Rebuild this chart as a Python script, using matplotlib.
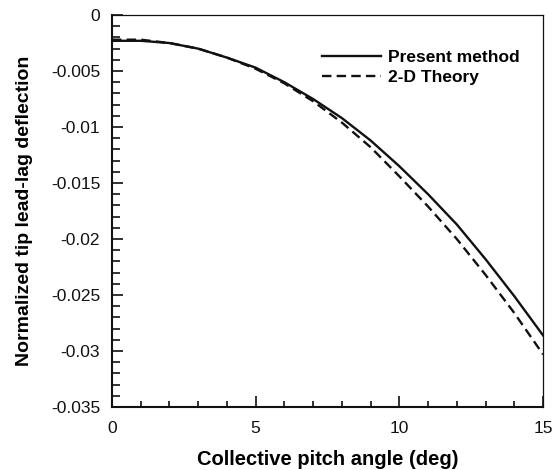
import matplotlib
matplotlib.use("Agg")
import matplotlib.pyplot as plt
from matplotlib.ticker import MultipleLocator, FuncFormatter

# collective pitch angle (deg)
pitch = [0, 1, 2, 3, 4, 5, 6, 7, 8, 9, 10, 11, 12, 13, 14, 15]
# normalized tip lead-lag deflection
present = [-0.0023, -0.0023, -0.0025, -0.0030, -0.0038, -0.0047, -0.0060, -0.0075,
           -0.0092, -0.0112, -0.0135, -0.0160, -0.0187, -0.0218, -0.0251, -0.0286]
theory_2d = [-0.0022, -0.0022, -0.0025, -0.0030, -0.0038, -0.0048, -0.0061, -0.0077,
             -0.0096, -0.0118, -0.0144, -0.0171, -0.0200, -0.0232, -0.0266, -0.0303]

plt.rcParams["font.family"] = ["Liberation Sans", "DejaVu Sans"]

fig = plt.figure(figsize=(5.55, 4.7), dpi=100)
ax = fig.add_axes([0.2018, 0.134, 0.7766, 0.834])

ax.plot(pitch, present, "-", color="#111111", lw=1.7, label="Present method")
ax.plot(pitch, theory_2d, "--", color="#111111", lw=1.7, dashes=(4, 2.2),
        label="2-D Theory")

ax.set_xlim(0, 15)
ax.set_ylim(-0.035, 0)
ax.xaxis.set_major_locator(MultipleLocator(5))
ax.xaxis.set_minor_locator(MultipleLocator(1))
ax.yaxis.set_major_locator(MultipleLocator(0.005))
ax.yaxis.set_minor_locator(MultipleLocator(0.001))
ax.yaxis.set_major_formatter(FuncFormatter(lambda v, p: f"{v:g}".replace("\u2212", "-")))
ax.xaxis.set_major_formatter(FuncFormatter(lambda v, p: f"{v:g}"))

ax.tick_params(which="both", direction="in", top=False, right=False,
               width=1.2, labelsize=12.5, colors="#111111")
ax.tick_params(axis="y", pad=8.5)
ax.tick_params(axis="x", pad=10)
ax.tick_params(which="major", length=8)
ax.tick_params(axis="y", which="minor", length=5.5)
ax.tick_params(axis="x", which="minor", length=4)

for side in ["left", "bottom"]:
    ax.spines[side].set_linewidth(1.5)
for side in ["top", "right"]:
    ax.spines[side].set_linewidth(0.9)
for s in ax.spines.values():
    s.set_color("#111111")

ax.set_xlabel("Collective pitch angle (deg)", fontsize=14.5, fontweight="bold", labelpad=10)
ax.set_ylabel("Normalized tip lead-lag deflection", fontsize=14, fontweight="bold", labelpad=13)

leg = ax.legend(loc="upper left", bbox_to_anchor=(0.45, 0.95), frameon=False,
                handlelength=3.4, handletextpad=0.45, labelspacing=0.25,
                prop={"size": 12.5, "weight": "bold"})

fig.savefig("out.png", dpi=100)
